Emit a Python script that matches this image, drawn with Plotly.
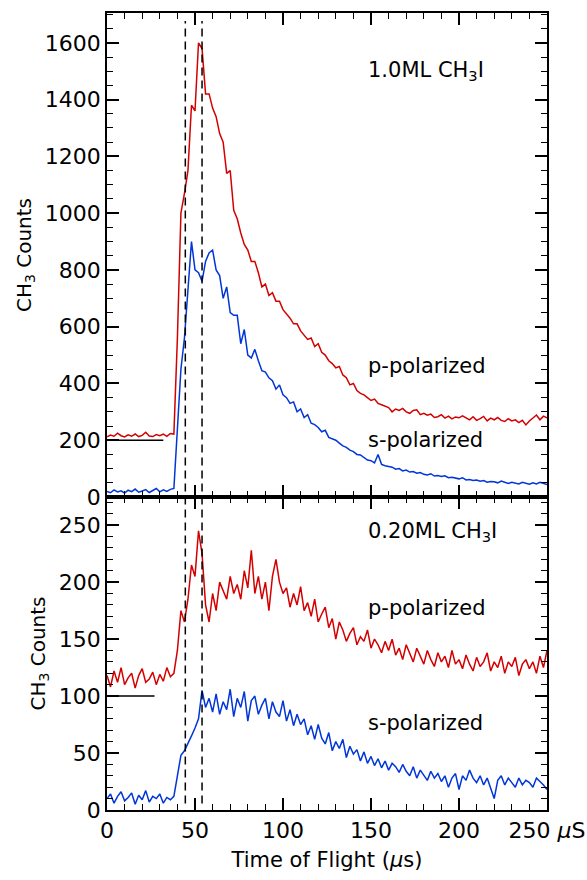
import plotly.graph_objects as go
from plotly.subplots import make_subplots

# sampling grid (µs)
t = list(range(0, 252, 2))

# 1.0 ML CH3I
p_10 = [212, 218, 214, 225, 216, 212, 219, 214, 222, 213, 217, 228, 215, 213, 220, 216, 222, 214, 224,
        222, 560, 1000, 1070, 1150, 1380, 1360, 1600, 1580, 1420, 1420, 1370, 1340, 1280, 1250, 1140,
        1150, 1010, 980, 930, 890, 870, 830, 830, 790, 740, 750, 710, 720, 690, 690, 660, 645, 630,
        610, 610, 585, 570, 555, 560, 530, 540, 510, 500, 480, 470, 455, 460, 430, 420, 395, 400,
        375, 365, 360, 350, 340, 345, 330, 325, 320, 315, 300, 310, 305, 312, 300, 295, 305, 307,
        290, 295, 288, 292, 280, 283, 290, 278, 285, 275, 282, 279, 286, 279, 272, 283, 270, 276,
        284, 268, 278, 272, 280, 270, 266, 276, 268, 272, 262, 270, 254, 268, 278, 289, 272, 285, 279]
s_10 = [20, 15, 25, 18, 22, 14, 24, 19, 28, 17, 21, 26, 16, 23, 30, 18, 25, 20, 27,
        30, 250, 450, 560, 720, 900, 800, 790, 760, 830, 860, 870, 800, 780, 700, 740, 650, 640,
        640, 540, 590, 500, 490, 520, 480, 445, 440, 420, 410, 380, 395, 360, 350, 330, 335, 300,
        310, 280, 290, 260, 255, 245, 230, 235, 210, 205, 200, 190, 180, 175, 165, 160, 150, 148,
        140, 130, 128, 120, 150, 115, 110, 108, 105, 98, 100, 92, 95, 88, 90, 84, 86, 80, 78, 82,
        74, 76, 72, 75, 68, 70, 66, 64, 68, 60, 62, 58, 60, 56, 58, 52, 55, 54, 50, 56, 52, 48, 52,
        50, 46, 52, 48, 45, 50, 46, 52, 48, 44]

# 0.20 ML CH3I
p_020 = [118, 108, 122, 112, 125, 110, 116, 120, 107, 118, 124, 112, 115, 121, 110, 119, 113, 125, 117,
         120, 140, 175, 165, 185, 215, 205, 245, 225, 180, 165, 190, 175, 200, 192, 185, 205, 190,
         198, 185, 210, 195, 228, 190, 205, 185, 200, 175, 205, 220, 200, 190, 195, 178, 190, 180,
         196, 175, 182, 170, 185, 165, 172, 178, 160, 168, 150, 165, 158, 148, 155, 160, 145, 152,
         148, 158, 142, 150, 145, 138, 148, 140, 150, 136, 142, 132, 145, 138, 130, 142, 135, 128,
         140, 132, 126, 138, 130, 135, 125, 140, 128, 132, 124, 136, 128, 122, 134, 126, 130, 138,
         122, 130, 125, 135, 120, 130, 126, 134, 118, 128, 132, 124, 130, 120, 135, 125, 140]
s_020 = [10, 14, 6, 12, 16, 8, 11, 15, 5, 13, 9, 17, 7, 12, 10, 14, 6, 11, 9,
         12, 30, 48, 52, 58, 65, 72, 80, 105, 90, 98, 86, 102, 84, 95, 88, 106, 82, 98, 90, 104, 78,
         96, 100, 84, 92, 98, 80, 95, 86, 82, 96, 78, 88, 74, 84, 75, 80, 66, 74, 62, 75, 63, 58, 68,
         52, 60, 54, 62, 46, 56, 49, 53, 43, 51, 41, 47, 39, 45, 37, 43, 35, 41, 38, 33, 40, 34, 30,
         38, 28, 35, 30, 26, 34, 28, 32, 25, 30, 20, 28, 32, 18, 30, 26, 35, 28, 24, 30, 22, 28, 18,
         10, 26, 30, 22, 28, 24, 20, 28, 22, 26, 24, 20, 28, 25, 22, 18]

# reference markers
dash_times = [44.5, 54]
base_top = {"x": [0, 32], "y": [200, 200]}
base_bot = {"x": [0, 27], "y": [100, 100]}

x_ticks = [0, 50, 100, 150, 200, 250]
x_ticktext = ["0", "50", "100", "150", "200", "250 <i>μ</i>S"]

RED = "#d40000"
BLUE = "#0036d8"
FONT = "DejaVu Sans"

fig = make_subplots(rows=2, cols=1, shared_xaxes=True, vertical_spacing=0,
                    row_heights=[0.6073, 0.3927])

fig.add_trace(go.Scatter(x=t, y=p_10, mode="lines", line=dict(color=RED, width=1.5)), row=1, col=1)
fig.add_trace(go.Scatter(x=t, y=s_10, mode="lines", line=dict(color=BLUE, width=1.5)), row=1, col=1)
fig.add_trace(go.Scatter(x=base_top["x"], y=base_top["y"], mode="lines",
                         line=dict(color="black", width=1.5)), row=1, col=1)
fig.add_trace(go.Scatter(x=t, y=p_020, mode="lines", line=dict(color=RED, width=1.5)), row=2, col=1)
fig.add_trace(go.Scatter(x=t, y=s_020, mode="lines", line=dict(color=BLUE, width=1.5)), row=2, col=1)
fig.add_trace(go.Scatter(x=base_bot["x"], y=base_bot["y"], mode="lines",
                         line=dict(color="black", width=1.5)), row=2, col=1)

for xv in dash_times:
    fig.add_shape(type="line", xref="x", yref="paper", x0=xv, x1=xv, y0=0.008, y1=0.99,
                  line=dict(color="black", width=1.5, dash="8px,5px"))

axis_common = dict(showline=True, linecolor="black", linewidth=1.5, mirror="ticks",
                   ticks="inside", ticklen=12, tickwidth=1.5, tickcolor="black",
                   showgrid=False, zeroline=False, automargin=False,
                   tickfont=dict(family=FONT, size=22, color="black"))

fig.update_xaxes(**axis_common, range=[0, 250], tickvals=x_ticks, ticktext=x_ticktext,
                 minor=dict(dtick=10, ticklen=6, tickwidth=1.2, tickcolor="black", ticks="inside"))
fig.update_xaxes(showticklabels=False, row=1, col=1)
fig.update_xaxes(title=dict(text="Time of Flight (<i>μ</i>s)", font=dict(family=FONT, size=21, color="black"),
                            standoff=10), row=2, col=1)

fig.update_yaxes(**axis_common)
fig.update_yaxes(range=[0, 1705], dtick=200,
                 minor=dict(dtick=50, ticklen=6, tickwidth=1.2, tickcolor="black", ticks="inside"),
                 title=dict(text="CH<sub>3</sub> Counts", font=dict(family=FONT, size=20, color="black"),
                            standoff=8), row=1, col=1)
fig.update_yaxes(range=[0, 274.7], dtick=50,
                 minor=dict(dtick=10, ticklen=6, tickwidth=1.2, tickcolor="black", ticks="inside"),
                 title=dict(text="CH<sub>3</sub> Counts", font=dict(family=FONT, size=20, color="black"),
                            standoff=8), row=2, col=1)

ann_font = dict(family=FONT, size=21, color="black")
labels = [
    ("x", "y", 147, 1499, "1.0ML CH<sub>3</sub>I"),
    ("x", "y", 147, 462, "p-polarized"),
    ("x", "y", 147, 201, "s-polarized"),
    ("x2", "y2", 147, 244, "0.20ML CH<sub>3</sub>I"),
    ("x2", "y2", 147, 177, "p-polarized"),
    ("x2", "y2", 147, 76, "s-polarized"),
]
for xr, yr, xv, yv, txt in labels:
    fig.add_annotation(xref=xr, yref=yr, x=xv, y=yv, text=txt, showarrow=False,
                       xanchor="left", yanchor="middle", font=ann_font)

fig.update_layout(width=587, height=880, showlegend=False,
                  margin=dict(l=107, r=40, t=13, b=70),
                  plot_bgcolor="white", paper_bgcolor="white",
                  font=dict(family=FONT, color="black"))

fig.write_html("out.html")
